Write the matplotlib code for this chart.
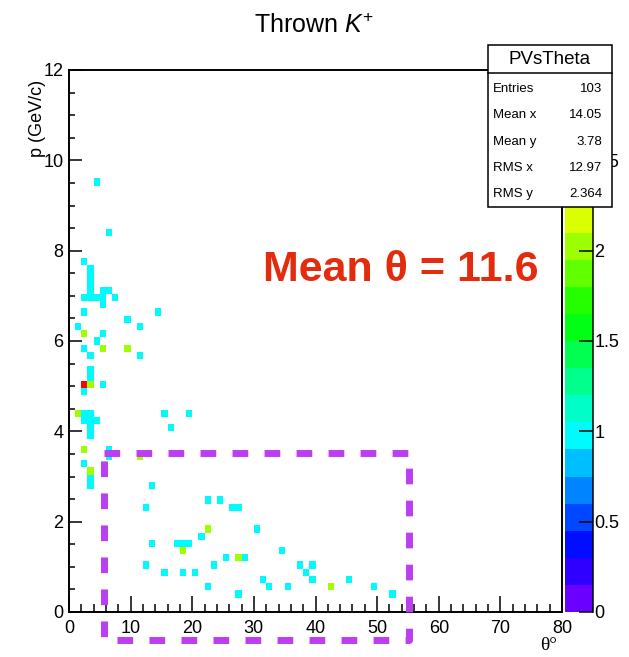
import numpy as np
import matplotlib
matplotlib.use('Agg')
from matplotlib import pyplot as plt
from matplotlib import font_manager
from matplotlib.colors import ListedColormap, Normalize
from matplotlib.lines import Line2D
from matplotlib.patches import Rectangle

#--- data: filled cells of the thrown K+ p vs theta histogram (bin centres)
cell_theta = [4.5, 6.5, 2.5, 3.5, 3.5, 3.5, 3.5, 5.5, 6.5, 2.5, 3.5, 4.5, 5.5, 7.5, 5.5, 2.5, 14.5, 9.5,
              1.5, 11.5, 5.5, 4.5, 2.5, 3.5, 11.5, 3.5, 3.5, 5.5, 2.5, 2.5, 3.5, 2.5, 3.5, 4.5, 3.5, 3.5,
              15.5, 19.5, 16.5, 6.5, 6.5, 2.5, 3.5, 3.5, 13.5,
              22.5, 24.5, 12.5, 26.5, 27.5, 30.5, 21.5, 13.5, 17.5, 18.5, 19.5, 34.5, 25.5, 28.5, 23.5,
              12.5, 37.5, 39.5, 15.5, 18.5, 20.5, 38.5, 31.5, 39.5, 45.5, 22.5, 32.5, 35.5, 49.5, 27.5, 52.5,
              2.5, 5.5, 9.5, 3.5, 1.5, 2.5, 11.5, 3.5, 22.5, 18.5, 27.5, 42.5,
              2.5]
cell_p = [9.52, 8.40, 7.76, 7.12, 7.28, 7.44, 7.60, 7.12, 7.12, 6.96, 6.96, 6.96, 6.96, 6.96, 6.80, 6.64, 6.64, 6.48,
          6.32, 6.32, 6.16, 6.00, 5.84, 5.68, 5.68, 5.20, 5.36, 5.04, 4.88, 4.40, 4.40, 4.24, 4.24, 4.24, 4.08, 3.92,
          4.40, 4.40, 4.08, 3.60, 3.44, 3.28, 2.96, 2.80, 2.80,
          2.48, 2.48, 2.32, 2.32, 2.32, 1.84, 1.68, 1.52, 1.52, 1.52, 1.52, 1.36, 1.20, 1.20, 1.04,
          1.04, 1.04, 1.04, 0.88, 0.88, 0.88, 0.88, 0.72, 0.72, 0.72, 0.56, 0.56, 0.56, 0.56, 0.40, 0.40,
          6.16, 5.84, 5.84, 5.04, 4.40, 3.60, 3.44, 3.12, 1.84, 1.36, 1.20, 0.56,
          5.04]
cell_n = [1] * 76 + [2] * 12 + [3]

theta_edges = np.arange(0, 81, 1)
p_edges = np.linspace(0, 12, 76)

stats_labels = ['Entries', 'Mean x', 'Mean y', 'RMS x', 'RMS y']
stats_values = ['103', '14.05', '3.78', '12.97', '2.364']

cbar_ticks = [0, 0.5, 1, 1.5, 2, 2.5, 3]
cbar_ticklabels = ['0', '0.5', '1', '1.5', '2', '2.5', '3']

# ROOT-like rainbow palette, 20 contour levels
palette = ['#6a00ff', '#2f00ff', '#000dff', '#0048ff', '#0084ff', '#00bfff', '#00fbff',
           '#00ffc8', '#00ff8c', '#00ff51', '#00ff15', '#26ff00', '#62ff00', '#9dff00',
           '#d9ff00', '#ffea00', '#ffae00', '#ff7300', '#ff3700', '#ff0000']

#--- fonts
plt.rcParams['font.family'] = ['Liberation Sans', 'DejaVu Sans']
plt.rcParams['mathtext.fontset'] = 'custom'
plt.rcParams['mathtext.rm'] = 'Liberation Sans'
plt.rcParams['mathtext.it'] = 'Liberation Sans:italic'
names = {f.name for f in font_manager.fontManager.ttflist}
if 'Liberation Sans Narrow' in names:
    big_font, big_size = 'Liberation Sans Narrow', 35
else:
    big_font, big_size = 'Liberation Sans', 31

W, H = 629, 657
def fx(px):
    return px / W
def fy(py):
    return 1 - py / H

fig = plt.figure(figsize=(W / 100, H / 100), dpi=100)
ax = fig.add_axes([fx(69), fy(612), fx(562) - fx(69), fy(70) - fy(612)])

counts, xe, ye = np.histogram2d(cell_theta, cell_p, bins=[theta_edges, p_edges], weights=cell_n)
mesh = ax.pcolormesh(xe, ye, np.ma.masked_equal(counts.T, 0),
                     cmap=ListedColormap(palette), norm=Normalize(0, 3))

ax.set_xlim(0, 80)
ax.set_ylim(0, 12)
ax.set_xticks(np.arange(0, 81, 10))
ax.set_xticks(np.arange(0, 81, 2), minor=True)
ax.set_yticks(np.arange(0, 13, 2))
ax.set_yticks(np.arange(0, 12.01, 0.5), minor=True)
ax.tick_params(which='both', direction='in', top=False, right=False, labelsize=13, width=1.1)
ax.tick_params(axis='x', which='major', length=11.5, pad=6)
ax.tick_params(axis='x', which='minor', length=5.8)
ax.tick_params(axis='y', which='major', length=9.4, pad=4)
ax.tick_params(axis='y', which='minor', length=4.3)
for s in ax.spines.values():
    s.set_linewidth(1.4)

#--- palette axis
cax = fig.add_axes([fx(565), fy(612), fx(593) - fx(565), fy(70) - fy(612)])
cb = fig.colorbar(mesh, cax=cax, ticks=cbar_ticks)
cb.set_ticklabels(cbar_ticklabels)
cb.outline.set_visible(False)
cax.minorticks_off()
cax.tick_params(direction='in', length=10, width=1.1, labelsize=13, pad=1)
cax.add_line(Line2D([1, 1], [0, 1], transform=cax.transAxes, color='k', lw=1.1, clip_on=False))

#--- titles
fig.text(fx(314), fy(26), 'Thrown $K^{+}$', ha='center', va='center', fontsize=18)
fig.text(fx(37), fy(80), 'p (GeV/c)', rotation=90, ha='center', va='top', fontsize=13)
fig.text(fx(557), fy(646), 'θ°', ha='right', va='center', fontsize=14,
         family=['Liberation Serif', 'DejaVu Serif'])

#--- stats box
fig.add_artist(Rectangle((fx(488), fy(207)), fx(612) - fx(488), fy(45) - fy(207),
                         transform=fig.transFigure, facecolor='white', edgecolor='black',
                         lw=1.1, zorder=4))
fig.add_artist(Line2D([fx(488), fx(612)], [fy(73), fy(73)], transform=fig.transFigure,
                      color='black', lw=1.1, zorder=4))
fig.text(fx(550), fy(59), 'PVsTheta', ha='center', va='center', fontsize=13.5, zorder=5)
for i, (lab, val) in enumerate(zip(stats_labels, stats_values)):
    y = fy(89 + 26.3 * i)
    fig.text(fx(493), y, lab, ha='left', va='center', fontsize=9.5, zorder=5)
    fig.text(fx(602), y, val, ha='right', va='center', fontsize=9.5, zorder=5)

#--- annotation
fig.text(fx(401), fy(281), 'Mean θ = 11.6', ha='center', va='baseline', fontsize=big_size,
         fontweight='bold', color='#e32b0d', family=[big_font, 'DejaVu Sans'], zorder=5)

box_x = [fx(104), fx(409), fx(409), fx(104), fx(104)]
box_y = [fy(453), fy(453), fy(639.5), fy(639.5), fy(453)]
fig.add_artist(Line2D(box_x, box_y, transform=fig.transFigure, color='#bd3ef1', lw=5,
                      linestyle=(0, (2.26, 2.35)), dash_capstyle='butt', zorder=6))

fig.savefig('out.png', dpi=100)
